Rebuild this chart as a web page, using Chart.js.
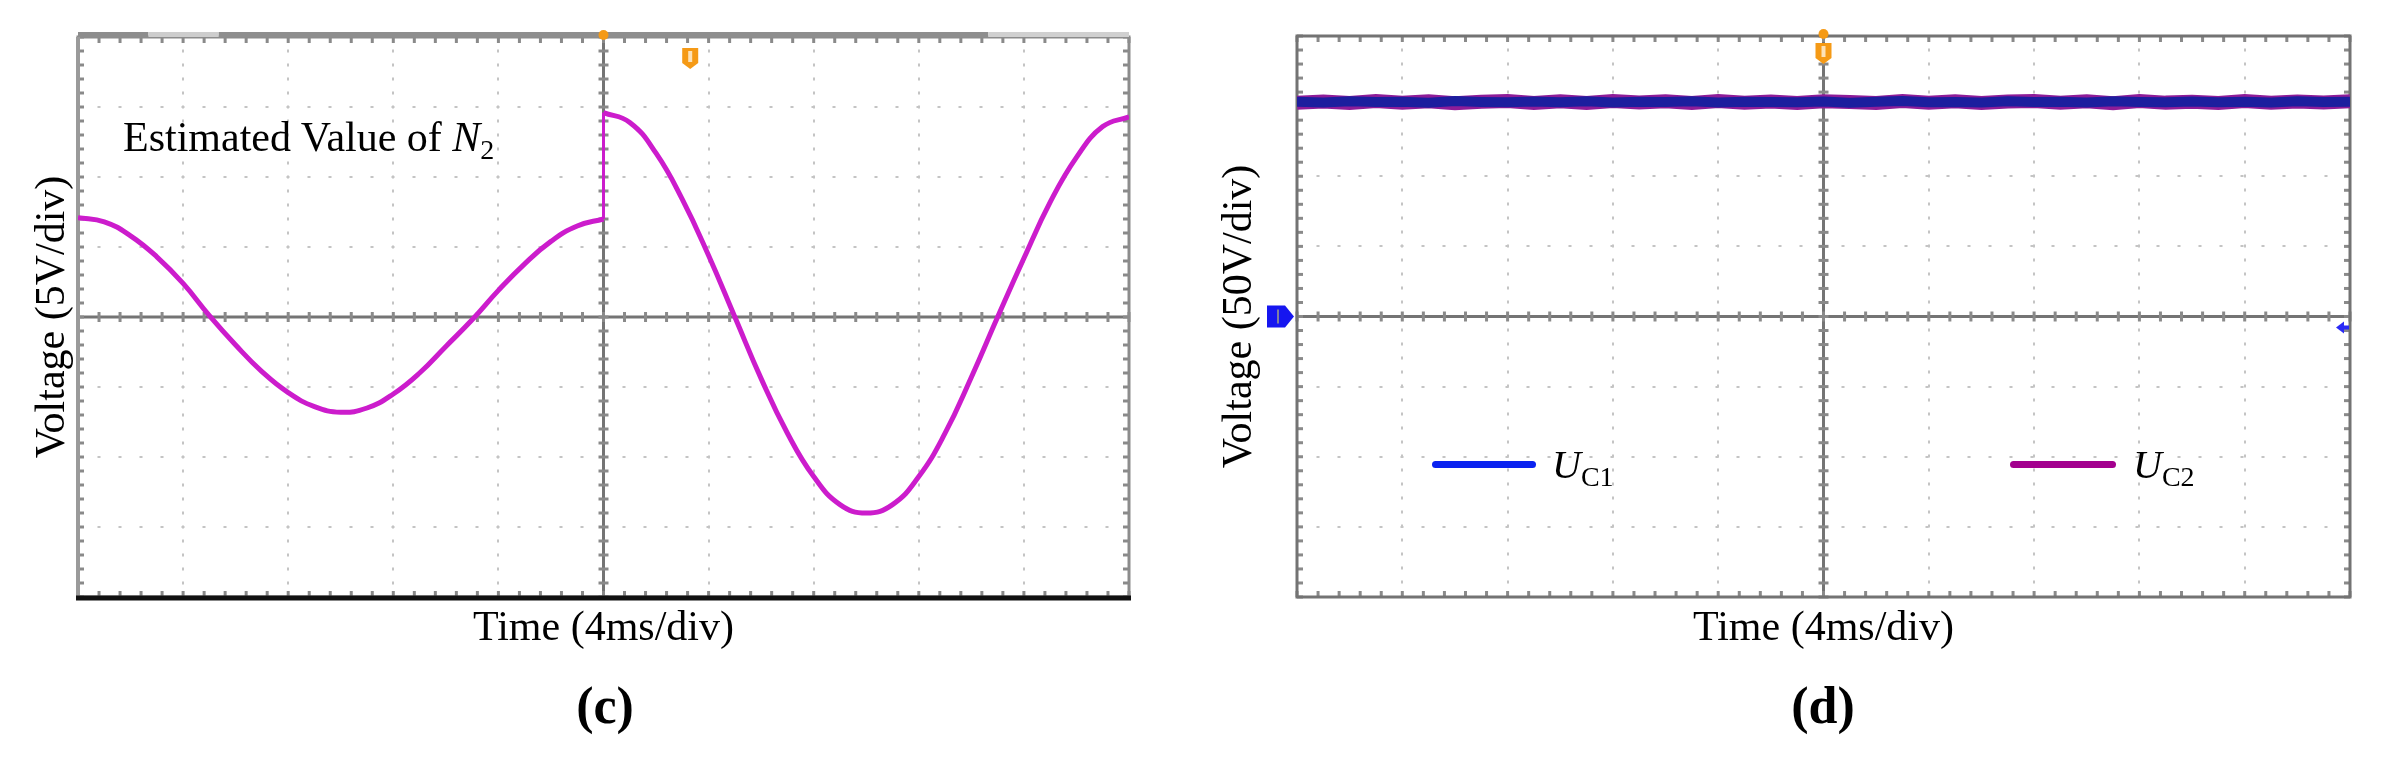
<!DOCTYPE html>
<html>
<head>
<meta charset="utf-8">
<script src="https://cdn.jsdelivr.net/npm/chart.js@4.4.1/dist/chart.umd.min.js"></script>
<style>
  html, body { margin: 0; padding: 0; background: #fff; }
  body { width: 2390px; height: 757px; position: relative; overflow: hidden;
         font-family: "Liberation Serif", "Times New Roman", serif; color: #000; }
  .pane { position: absolute; top: 0; height: 757px; }
  #paneC { left: 0; width: 1210px; }
  #paneD { left: 1180px; width: 1286px; }
  .note { position: absolute; font-size: 42px; line-height: 1; white-space: nowrap; }
  .note sub { font-size: 28px; vertical-align: -8px; line-height: 0; }
  .legline { position: absolute; height: 7px; border-radius: 4px; }
  .legtxt { position: absolute; font-size: 40px; line-height: 1; white-space: nowrap; }
  .legtxt sub { font-size: 28px; vertical-align: -8px; line-height: 0; font-style: normal; }
</style>
</head>
<body>
<div class="pane" id="paneC"><canvas id="chartC" width="1210" height="757"></canvas></div>
<div class="pane" id="paneD"><canvas id="chartD" width="1286" height="757"></canvas></div>

<div class="note" style="left:123px; top:116px;">Estimated Value of <i>N</i><sub>2</sub></div>

<div class="legline" style="left:1432px; top:461px; width:104px; background:#0a22f0;"></div>
<div class="legtxt" style="left:1552px; top:445px;"><i>U</i><sub>C1</sub></div>
<div class="legline" style="left:2010px; top:461px; width:106px; background:#a3008e;"></div>
<div class="legtxt" style="left:2133px; top:445px;"><i>U</i><sub>C2</sub></div>

<script>
// ---------- data ----------
// Panel (c): estimated value of N2, 5 V/div, 4 ms/div
const timeC1 = [0,1,2,3,4,5,6,7,8,9,10,11,12,13,14,15,16,17,18,19,20];
const voltC1 = [7.1,6.8,5.8,4.3,2.4,0.1,-2.0,-3.9,-5.4,-6.4,-6.8,-6.5,-5.5,-4.0,-2.1,-0.2,1.9,3.8,5.4,6.5,7.0];
const timeC2 = [20,21,22,23,24,25,26,27,28,29,30,31,32,33,34,35,36,37,38,39,40];
const voltC2 = [14.6,13.9,11.7,8.4,4.4,0.0,-4.4,-8.3,-11.4,-13.4,-14.0,-13.4,-11.4,-8.3,-4.3,0.0,4.2,8.2,11.4,13.6,14.3];

// Panel (d): capacitor voltages UC1, UC2, 50 V/div, 4 ms/div
const timeD = [0,1,2,3,4,5,6,7,8,9,10,11,12,13,14,15,16,17,18,19,20,21,22,23,24,25,26,27,28,29,30,31,32,33,34,35,36,37,38,39,40];
const uC1 = [153.2,152.6,153.5,152.9,153.1,152.4,153.6,153.0,152.7,153.3,152.8,153.4,152.5,153.1,152.9,153.5,152.6,153.2,153.0,152.7,153.3,152.4,153.1,153.6,152.8,153.0,152.5,153.4,152.9,153.2,152.6,153.5,153.0,152.8,153.3,152.7,153.1,152.5,153.4,152.9,153.2];
const uC2 = [152.4,153.3,152.2,153.6,152.5,153.4,152.1,153.2,153.7,152.3,153.5,152.2,153.6,152.6,153.4,152.3,153.7,152.5,153.3,152.2,153.5,153.0,152.3,153.6,152.4,153.5,152.2,153.3,153.7,152.4,153.4,152.1,153.6,152.5,153.2,152.3,153.6,152.4,153.3,152.6,153.5];

const timeRange = [0, 40];
const voltRangeC = [-20, 20];
const voltRangeD = [-200, 200];
const titleC = '(c)', titleD = '(d)';
const xTitle = 'Time (4ms/div)';
const yTitleC = 'Voltage (5V/div)';
const yTitleD = 'Voltage (50V/div)';

// ---------- helpers ----------
const SERIF = "'Liberation Serif', 'Times New Roman', serif";
const pts = (xs, ys) => xs.map((x, i) => ({ x: x, y: ys[i] }));

function scopePlugin(cfg) {
  return {
    id: 'scope',
    beforeDatasetsDraw(chart) {
      const { ctx, chartArea: a, scales: { x, y } } = chart;
      const line = (x1, y1, x2, y2) => { ctx.beginPath(); ctx.moveTo(x1, y1); ctx.lineTo(x2, y2); ctx.stroke(); };
      const cx = x.getPixelForValue((x.min + x.max) / 2);
      const cy = y.getPixelForValue(0);
      ctx.save();
      ctx.strokeStyle = '#747474';
      ctx.lineWidth = 3;
      line(cx, a.top, cx, a.bottom);
      line(a.left, cy, a.right, cy);
      ctx.lineWidth = 3;
      ctx.strokeStyle = '#8a8a8a';
      const xs = (x.max - x.min) / 50, ys = (y.max - y.min) / 40;
      for (let i = 0; i <= 50; i++) {
        const px = x.getPixelForValue(x.min + i * xs);
        line(px, cy - 5, px, cy + 5);
        line(px, a.top, px, a.top + 6);
        line(px, a.bottom - 6, px, a.bottom);
      }
      for (let j = 0; j <= 40; j++) {
        const py = y.getPixelForValue(y.min + j * ys);
        line(cx - 5, py, cx + 5, py);
        line(a.left, py, a.left + 6, py);
        line(a.right - 6, py, a.right, py);
      }
      ctx.strokeStyle = cfg.frame;
      ctx.lineWidth = 3;
      ctx.strokeRect(a.left, a.top, a.width, a.height);
      if (cfg.leftBorder) { ctx.strokeStyle = cfg.leftBorder; ctx.lineWidth = 4; line(a.left, a.top, a.left, a.bottom); }
      if (cfg.thickBottom) {
        ctx.strokeStyle = '#111';
        ctx.lineWidth = 5;
        line(a.left - 2, a.bottom + 1, a.right + 2, a.bottom + 1);
      }
      if (cfg.topBar) {
        const segs = [[0, 0.067, '#8d8d8d'], [0.067, 0.134, '#cdcdcd'], [0.134, 0.866, '#8e8e8e'], [0.866, 1, '#d0d0d0']];
        segs.forEach(s => {
          ctx.fillStyle = s[2];
          ctx.fillRect(a.left + s[0] * a.width, a.top - 5, (s[1] - s[0]) * a.width, 5);
        });
      }
      ctx.restore();
    },
    afterDatasetsDraw(chart) {
      const { ctx, chartArea: a, scales: { x, y } } = chart;
      const cx = x.getPixelForValue((x.min + x.max) / 2);
      const cy = y.getPixelForValue(0);
      ctx.save();
      ctx.fillStyle = '#f59a16';
      ctx.beginPath(); ctx.arc(cx, a.top - 2, 5, 0, Math.PI * 2); ctx.fill();
      const tx = x.getPixelForValue(cfg.tagX), ty = a.top + cfg.tagY;
      ctx.fillStyle = '#f59a16';
      ctx.beginPath();
      ctx.moveTo(tx - 8, ty - 10); ctx.lineTo(tx + 8, ty - 10); ctx.lineTo(tx + 8, ty + 5);
      ctx.lineTo(tx, ty + 11); ctx.lineTo(tx - 8, ty + 5); ctx.closePath(); ctx.fill();
      ctx.fillStyle = '#fde2b8';
      ctx.fillRect(tx - 2, ty - 7, 4, 11);
      if (cfg.ground) {
        ctx.fillStyle = '#1616f0';
        ctx.beginPath();
        ctx.moveTo(a.left - 30, cy - 11); ctx.lineTo(a.left - 12, cy - 11); ctx.lineTo(a.left - 3, cy);
        ctx.lineTo(a.left - 12, cy + 11); ctx.lineTo(a.left - 30, cy + 11); ctx.closePath(); ctx.fill();
        ctx.strokeStyle = '#8080a0'; ctx.lineWidth = 2;
        ctx.beginPath(); ctx.moveTo(a.left - 19, cy - 7); ctx.lineTo(a.left - 19, cy + 7); ctx.stroke();
        ctx.fillStyle = '#2a2af5';
        ctx.beginPath();
        ctx.moveTo(a.right - 14, cy + 11); ctx.lineTo(a.right - 6, cy + 5); ctx.lineTo(a.right - 6, cy + 17); ctx.closePath(); ctx.fill();
        ctx.fillRect(a.right - 8, cy + 9, 7, 4);
      }
      ctx.restore();
    }
  };
}

function makeOptions(p) {
  return {
    responsive: false,
    animation: false,
    devicePixelRatio: 1,
    layout: { padding: { left: 0, right: 0, top: p.padTop, bottom: 0 } },
    elements: { point: { radius: 0 } },
    plugins: {
      legend: { display: false },
      tooltip: { enabled: false },
      title: {
        display: true, text: p.title, position: 'bottom', color: '#000',
        font: { family: SERIF, size: 52, weight: 'bold' },
        padding: { top: 0, bottom: 16 }
      }
    },
    scales: {
      x: {
        type: 'linear', min: timeRange[0], max: timeRange[1],
        afterFit: s => { s.height = 81.6; },
        ticks: { display: false, stepSize: 4 },
        grid: { color: '#c4c4c4', lineWidth: 2, drawTicks: false },
        border: { display: false, dash: [3, 11], dashOffset: 1.5 },
        title: { display: true, text: xTitle, color: '#000', font: { family: SERIF, size: 42 }, padding: { top: 0, bottom: 24 } }
      },
      y: {
        type: 'linear', min: p.yRange[0], max: p.yRange[1],
        afterFit: s => { s.width = p.yWidth; },
        ticks: { display: false, stepSize: (p.yRange[1] - p.yRange[0]) / 8 },
        grid: { color: '#c4c4c4', lineWidth: 2, drawTicks: false },
        border: { display: false, dash: [3, 18], dashOffset: 1.5 },
        title: { display: true, text: p.yTitle, color: '#000', font: { family: SERIF, size: 42 }, padding: { top: p.yTitlePad, bottom: 0 } }
      },
      spacer: {
        type: 'linear', position: 'right', display: true,
        afterFit: s => { s.width = p.rightWidth; },
        ticks: { display: false }, grid: { display: false }, border: { display: false }
      }
    }
  };
}

// ---------- chart (c) ----------
const jump = [{ x: timeC1[timeC1.length - 1], y: voltC1[voltC1.length - 1] }, { x: timeC2[0], y: voltC2[0] }];
new Chart(document.getElementById('chartC'), {
  type: 'line',
  data: {
    datasets: [
      { data: pts(timeC1, voltC1), borderColor: '#cc1ccc', borderWidth: 5, tension: 0.45, fill: false },
      { data: jump, borderColor: '#cc1ccc', borderWidth: 3, tension: 0, fill: false },
      { data: pts(timeC2, voltC2), borderColor: '#cc1ccc', borderWidth: 5, tension: 0.45, fill: false }
    ]
  },
  options: makeOptions({ padTop: 37, yRange: voltRangeC, yWidth: 78, rightWidth: 81, yTitle: yTitleC, yTitlePad: 28, title: titleC }),
  plugins: [scopePlugin({ frame: '#8c8c8c', leftBorder: '#9a9a9a', thickBottom: true, topBar: true, tagX: 23.3, tagY: 21, ground: false })]
});

// ---------- chart (d) ----------
new Chart(document.getElementById('chartD'), {
  type: 'line',
  data: {
    datasets: [
      { label: 'UC1', data: pts(timeD, uC1), borderColor: '#1c1e9e', borderWidth: 10, tension: 0, fill: false },
      { label: 'UC2', data: pts(timeD, uC2), borderColor: '#8e1c98', borderWidth: 14, tension: 0, fill: false }
    ]
  },
  options: makeOptions({ padTop: 36, yRange: voltRangeD, yWidth: 117, rightWidth: 116, yTitle: yTitleD, yTitlePad: 35, title: titleD }),
  plugins: [scopePlugin({ frame: '#737373', thickBottom: false, topBar: false, tagX: 20, tagY: 17, ground: true })]
});
</script>
</body>
</html>
